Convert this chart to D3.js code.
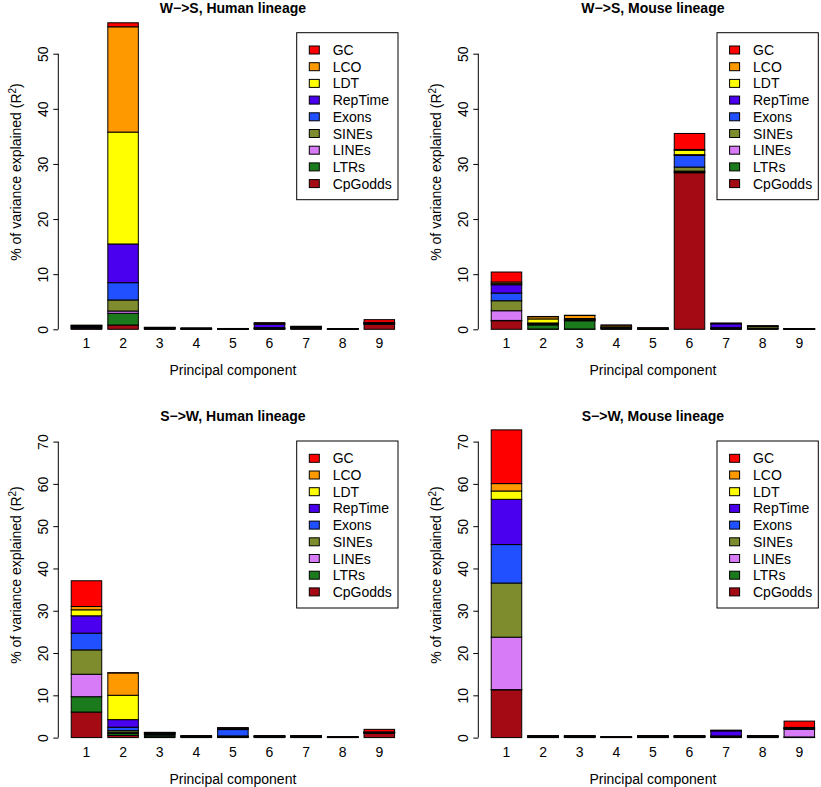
<!doctype html>
<html>
<head>
<meta charset="utf-8">
<title>Variance explained by principal components</title>
<script src="https://cdn.jsdelivr.net/npm/d3@7"></script>
<style>
  body { margin: 0; background: #fff; }
  svg { font-family: "Liberation Sans", Arial, sans-serif; }
</style>
</head>
<body>
<script>

// principal components on the x axis
var components = ["1", "2", "3", "4", "5", "6", "7", "8", "9"];

// stacking order, bottom -> top
var features = ["CpGodds", "LTRs", "LINEs", "SINEs", "Exons", "RepTime", "LDT", "LCO", "GC"];
var featureColors = ["#A30A14", "#1B7A1B", "#D77BF7", "#7E8C2E", "#2050FF", "#4A00EE", "#FFFF00", "#FF9900", "#FF0000"];

var ticksTop = [0, 10, 20, 30, 40, 50];
var ticksBottom = [0, 10, 20, 30, 40, 50, 60, 70];

// one row per component: CpGodds, LTRs, LINEs, SINEs, Exons, RepTime, LDT, LCO, GC
var wsHuman = [
  [0.1, 0.1, 0.1, 0.1, 0.1, 0.1, 0.05, 0.05, 0.05],
  [0.78, 2.12, 0.42, 2.0, 3.14, 7.02, 20.3, 19.1, 0.73],
  [0.05, 0.05, 0.05, 0.05, 0.05, 0.05, 0.02, 0.02, 0.02],
  [0.03, 0.03, 0.03, 0.03, 0.03, 0.03, 0.01, 0.01, 0.01],
  [0.02, 0.02, 0.02, 0.02, 0.02, 0.02, 0.01, 0.01, 0.01],
  [0.05, 0.05, 0.05, 0.05, 0.1, 0.6, 0.1, 0.1, 0.1],
  [0.1, 0.1, 0.05, 0.05, 0.05, 0.05, 0.05, 0.05, 0.05],
  [0.02, 0.02, 0.01, 0.01, 0.01, 0.01, 0.01, 0.01, 0.01],
  [0.9, 0.05, 0.05, 0.05, 0.05, 0.05, 0.05, 0.05, 0.5]
];

var wsMouse = [
  [1.56, 0.05, 1.76, 1.81, 1.4, 1.5, 0.2, 0.3, 1.81],
  [0.05, 0.75, 0.1, 0.1, 0.05, 0.1, 0.73, 0.4, 0.05],
  [0.05, 1.5, 0.05, 0.1, 0.05, 0.1, 0.1, 0.55, 0.05],
  [0.05, 0.1, 0.05, 0.1, 0.05, 0.05, 0.05, 0.3, 0.02],
  [0.03, 0.03, 0.03, 0.03, 0.03, 0.03, 0.03, 0.03, 0.02],
  [28.4, 0.15, 0.15, 0.73, 2.1, 0.15, 0.8, 0.15, 2.9],
  [0.05, 0.05, 0.05, 0.05, 0.1, 0.7, 0.05, 0.05, 0.02],
  [0.05, 0.1, 0.05, 0.3, 0.03, 0.03, 0.02, 0.02, 0.02],
  [0.02, 0.02, 0.01, 0.01, 0.01, 0.01, 0.01, 0.01, 0.01]
];

var swHuman = [
  [6.04, 3.63, 5.31, 5.76, 3.96, 4.1, 1.42, 0.78, 6.09],
  [0.5, 0.45, 0.3, 0.4, 0.8, 1.8, 5.76, 5.28, 0.05],
  [0.2, 0.4, 0.1, 0.2, 0.1, 0.1, 0.05, 0.05, 0.05],
  [0.08, 0.08, 0.05, 0.05, 0.05, 0.05, 0.03, 0.03, 0.03],
  [0.1, 0.1, 0.1, 0.1, 1.5, 0.2, 0.1, 0.1, 0.05],
  [0.08, 0.08, 0.05, 0.05, 0.05, 0.05, 0.03, 0.03, 0.03],
  [0.08, 0.08, 0.05, 0.05, 0.05, 0.05, 0.03, 0.03, 0.03],
  [0.03, 0.03, 0.02, 0.02, 0.02, 0.02, 0.02, 0.02, 0.02],
  [1.0, 0.05, 0.05, 0.05, 0.05, 0.05, 0.05, 0.05, 0.6]
];

var swMouse = [
  [11.3, 0.05, 12.4, 12.8, 9.1, 10.7, 1.97, 1.75, 12.7],
  [0.08, 0.08, 0.05, 0.05, 0.05, 0.05, 0.03, 0.03, 0.03],
  [0.08, 0.08, 0.05, 0.05, 0.05, 0.05, 0.03, 0.03, 0.03],
  [0.03, 0.03, 0.02, 0.02, 0.02, 0.02, 0.02, 0.02, 0.02],
  [0.08, 0.08, 0.05, 0.05, 0.05, 0.05, 0.03, 0.03, 0.03],
  [0.08, 0.08, 0.05, 0.05, 0.05, 0.05, 0.03, 0.03, 0.03],
  [0.1, 0.1, 0.05, 0.05, 0.1, 1.2, 0.05, 0.05, 0.05],
  [0.08, 0.08, 0.05, 0.05, 0.05, 0.05, 0.03, 0.03, 0.03],
  [0.1, 0.05, 1.8, 0.1, 0.1, 0.1, 0.05, 0.1, 1.5]
];

var width = 821, height = 787;

var svg = d3.select("body").append("svg")
    .attr("width", width)
    .attr("height", height);

svg.append("rect")
    .attr("width", width)
    .attr("height", height)
    .attr("fill", "white");

// layout of the four panels (plot region left edge, zero line, top tick position)
var panels = [
  {title: "W\u2212>S, Human lineage", data: wsHuman, ticks: ticksTop, left: 58.3, zero: 329.3, tickTop: 53.7, titleY: 12.5, ylabY: 172, legendTop: 32.7, legendLeft: 296.7},
  {title: "W\u2212>S, Mouse lineage", data: wsMouse, ticks: ticksTop, left: 478.3, zero: 329.3, tickTop: 53.7, titleY: 12.5, ylabY: 172, legendTop: 32.7, legendLeft: 717},
  {title: "S\u2212>W, Human lineage", data: swHuman, ticks: ticksBottom, left: 58.3, zero: 737.6, tickTop: 441.6, titleY: 421, ylabY: 575, legendTop: 441, legendLeft: 296.7},
  {title: "S\u2212>W, Mouse lineage", data: swMouse, ticks: ticksBottom, left: 478.3, zero: 737.6, tickTop: 441.6, titleY: 421, ylabY: 575, legendTop: 441, legendLeft: 717}
];

var plotWidth = 349.2;

panels.forEach(function(p) {
  var g = svg.append("g");

  var x = d3.scaleBand()
      .domain(components)
      .range([p.left, p.left + plotWidth])
      .paddingInner(1 / 6)
      .paddingOuter(0.353);

  var maxTick = p.ticks[p.ticks.length - 1];
  var y = d3.scaleLinear()
      .domain([0, maxTick])
      .range([p.zero, p.tickTop]);

  var stack = d3.stack()
      .keys(d3.range(features.length))
      .value(function(row, k) { return row[k]; });
  var series = stack(p.data);

  // stacked bars
  series.forEach(function(s, k) {
    g.append("g").selectAll("rect")
        .data(s)
        .enter().append("rect")
        .attr("x", function(d, i) { return x(components[i]); })
        .attr("y", function(d) { return y(d[1]); })
        .attr("width", x.bandwidth())
        .attr("height", function(d) { return y(d[0]) - y(d[1]); })
        .attr("fill", featureColors[k])
        .attr("stroke", "#000")
        .attr("stroke-width", 1);
  });

  // y axis, R style: line only between first and last tick, labels parallel to axis
  var yAxis = g.append("g")
      .attr("transform", "translate(" + p.left + ",0)")
      .call(d3.axisLeft(y).tickValues(p.ticks).tickSize(5).tickSizeOuter(0));
  yAxis.select(".domain").remove();
  yAxis.append("line")
      .attr("y1", y(0))
      .attr("y2", y(maxTick))
      .attr("stroke", "#000");
  yAxis.selectAll(".tick line").attr("stroke", "#000");
  yAxis.selectAll(".tick text")
      .attr("x", 0)
      .attr("dy", null)
      .attr("transform", "translate(-10.5,0) rotate(-90)")
      .attr("text-anchor", "middle")
      .attr("fill", "#000")
      .style("font-size", "14px")
      .style("font-family", "'Liberation Sans', Arial, sans-serif");

  // component labels
  g.selectAll(".xlab")
      .data(components)
      .enter().append("text")
      .attr("class", "xlab")
      .attr("x", function(d) { return x(d) + x.bandwidth() / 2; })
      .attr("y", p.zero + 19)
      .attr("text-anchor", "middle")
      .style("font-size", "14px")
      .text(function(d) { return d; });

  var cx = p.left + plotWidth / 2;

  g.append("text")
      .attr("x", cx)
      .attr("y", p.zero + 46)
      .attr("text-anchor", "middle")
      .style("font-size", "14px")
      .text("Principal component");

  var ylab = g.append("text")
      .attr("transform", "translate(" + (p.left - 37.6) + "," + p.ylabY + ") rotate(-90)")
      .attr("text-anchor", "middle")
      .style("font-size", "14px");
  ylab.append("tspan").text("% of variance explained (R");
  ylab.append("tspan").attr("dy", -5).style("font-size", "10px").text("2");
  ylab.append("tspan").attr("dy", 5).text(")");

  g.append("text")
      .attr("x", cx)
      .attr("y", p.titleY)
      .attr("text-anchor", "middle")
      .style("font-size", "14px")
      .style("font-weight", "bold")
      .text(p.title);

  // legend, GC first
  var legend = g.append("g")
      .attr("transform", "translate(" + p.legendLeft + "," + p.legendTop + ")");
  legend.append("rect")
      .attr("width", 101.3)
      .attr("height", 167)
      .attr("fill", "white")
      .attr("stroke", "#000");
  var order = d3.range(features.length).reverse();
  var rows = legend.selectAll(".row")
      .data(order)
      .enter().append("g")
      .attr("class", "row")
      .attr("transform", function(k, i) { return "translate(0," + (17.3 + i * 16.7) + ")"; });
  rows.append("rect")
      .attr("x", 12.6)
      .attr("y", -4)
      .attr("width", 10)
      .attr("height", 8)
      .attr("fill", function(k) { return featureColors[k]; })
      .attr("stroke", "#000");
  rows.append("text")
      .attr("x", 36)
      .attr("y", 5)
      .style("font-size", "14px")
      .text(function(k) { return features[k]; });
});

</script>
</body>
</html>
